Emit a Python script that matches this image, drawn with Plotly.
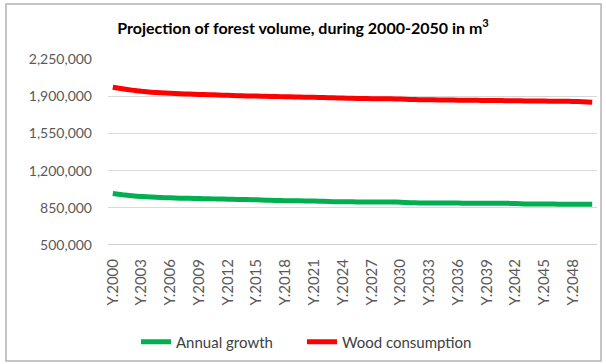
import plotly.graph_objects as go

years = [f"Y.{y}" for y in range(2000, 2051)]

annual_growth = [
    985000, 972000, 963000, 956000, 951000, 947000, 944000, 941000, 939000, 937000,
    935000, 933000, 931000, 929000, 927000, 925000, 922000, 919000, 917000, 916000,
    915000, 914000, 911000, 908000, 907000, 906000, 905000, 905000, 904000, 904000,
    903000, 898000, 896000, 895000, 895000, 894000, 894000, 893000, 893000, 893000,
    892000, 892000, 891000, 886000, 885000, 885000, 885000, 884000, 884000, 884000,
    884000,
]

wood_consumption = [
    1985000, 1970000, 1957000, 1946000, 1938000, 1932000, 1927000, 1923000, 1920000, 1917000,
    1914000, 1911000, 1908000, 1905000, 1903000, 1901000, 1899000, 1897000, 1895000, 1893000,
    1891000, 1889000, 1887000, 1885000, 1882000, 1880000, 1878000, 1877000, 1876000, 1875000,
    1874000, 1870000, 1867000, 1866000, 1865000, 1864000, 1863000, 1862000, 1861000, 1860000,
    1859000, 1858000, 1857000, 1856000, 1855000, 1854000, 1853000, 1852000, 1851000, 1848000,
    1843000,
]

y_ticks = [500000, 850000, 1200000, 1550000, 1900000, 2250000]
x_ticks = years[::3]

FONT = "Lato, 'Open Sans', sans-serif"
W, H = 606, 364
L, R, T, B = 108, 9, 59, 119
pw, ph = W - L - R, H - T - B

fig = go.Figure()
fig.add_trace(go.Scatter(
    x=years, y=annual_growth, name="Annual growth", mode="lines",
    line=dict(color="#00b050", width=5, shape="spline", smoothing=0.3),
    legend="legend",
))
fig.add_trace(go.Scatter(
    x=years, y=wood_consumption, name="Wood consumption", mode="lines",
    line=dict(color="#ff0000", width=5, shape="spline", smoothing=0.3),
    legend="legend2",
))


def px_x(v):
    return (v - L) / pw


def px_y(v):
    return (H - B - v) / ph


# outer chart frame
fig.add_shape(type="rect", xref="paper", yref="paper",
              x0=px_x(6), x1=px_x(601), y0=px_y(361), y1=px_y(4),
              line=dict(color="#b3b3b3", width=1.5), fillcolor="rgba(0,0,0,0)")

legend_style = dict(orientation="h", xref="container", yref="container",
                    xanchor="left", y=1 - 342 / H, yanchor="middle",
                    font=dict(family=FONT, size=15, color="#404040"),
                    itemwidth=30, bgcolor="rgba(0,0,0,0)")

fig.update_layout(
    width=W, height=H,
    margin=dict(l=L, r=R, t=T, b=B),
    paper_bgcolor="white", plot_bgcolor="white",
    font=dict(family=FONT, color="#595959", size=13),
    title=dict(
        text="<b>Projection of forest volume, during 2000-2050 in m<sup>3</sup></b>",
        x=0.5, xref="container", xanchor="center",
        y=1 - 28 / H, yref="container", yanchor="middle",
        font=dict(family=FONT, size=16, color="#000000"),
    ),
    showlegend=True,
    legend=dict(x=136 / W, **legend_style),
    legend2=dict(x=302 / W, **legend_style),
)
fig.update_xaxes(
    type="category", range=[-0.5, len(years) - 0.5],
    tickmode="array", tickvals=x_ticks, ticktext=x_ticks, tickangle=-90,
    showgrid=False, showline=False, ticks="", tickfont=dict(size=15),
    ticklabelstandoff=10,
)
fig.update_yaxes(
    range=[500000, 2250000], tickvals=y_ticks, tickformat=",d",
    showgrid=True, gridcolor="#d9d9d9", gridwidth=1,
    zeroline=False, showline=False, ticks="", tickfont=dict(size=14),
    ticklabelstandoff=15,
)
# category axis baseline
fig.add_shape(type="line", xref="paper", yref="y", x0=0, x1=1, y0=500000, y1=500000,
              line=dict(color="#bfbfbf", width=1.5))

fig.write_html("out.html")
